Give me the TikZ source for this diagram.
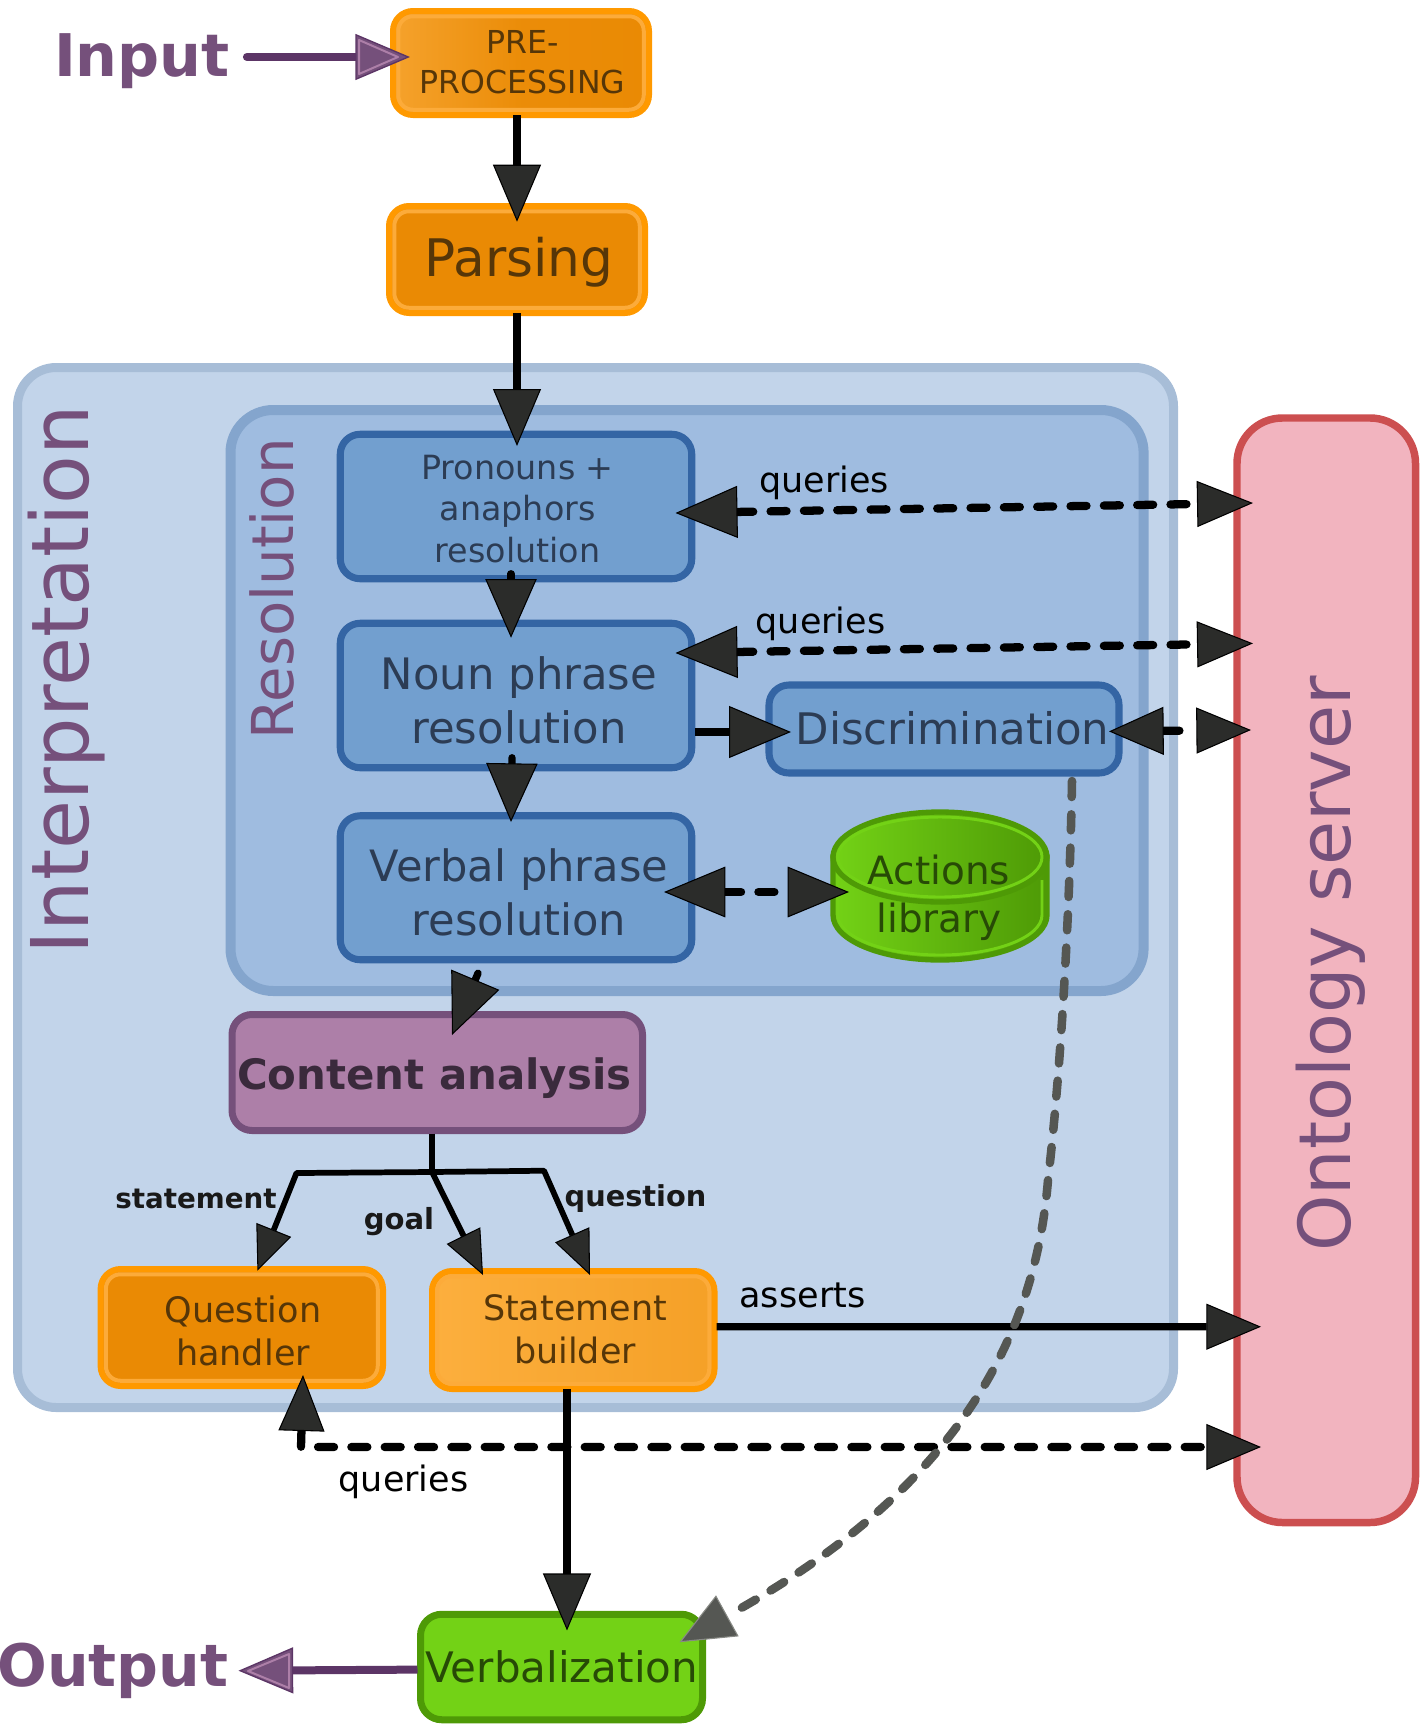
\documentclass[tikz,border=0pt]{standalone}
\usepackage{fontspec}
\setmainfont{DejaVu Sans}
\usetikzlibrary{arrows.meta,calc}
\definecolor{orst}{HTML}{FF9900}
\definecolor{orring}{HTML}{FCAB3A}
\definecolor{orfill}{HTML}{EA8A04}
\definecolor{orlight}{HTML}{FCAF3E}
\definecolor{orleft}{HTML}{F5A22C}
\definecolor{ortext}{HTML}{563608}
\definecolor{ifill}{HTML}{C2D4EA}
\definecolor{ist}{HTML}{A7BDD7}
\definecolor{rfill}{HTML}{9FBCE0}
\definecolor{rst}{HTML}{84A5CD}
\definecolor{bfill}{HTML}{729FCF}
\definecolor{bst}{HTML}{3465A4}
\definecolor{btext}{HTML}{2C3C54}
\definecolor{pur}{HTML}{75507B}
\definecolor{purd}{HTML}{5C3566}
\definecolor{purl}{HTML}{AD7FA8}
\definecolor{catext}{HTML}{3A2A3C}
\definecolor{grn}{HTML}{73D216}
\definecolor{grnd}{HTML}{4E9A06}
\definecolor{grntext}{HTML}{274A06}
\definecolor{ofill}{HTML}{F2B4BF}
\definecolor{ost}{HTML}{CC4F50}
\definecolor{tipd}{HTML}{2B2C2A}
\definecolor{gr}{HTML}{555753}
\definecolor{grl}{HTML}{888A85}
\newdimen\pxu \pxu=.75pt
% text placed inside a node: dx, dy of last baseline from the node centre (px), size, leading (pt), lines
\newcommand\intext[5]{\raisebox{-#2\pxu}[0pt][0pt]{\makebox[0pt][c]{\hspace*{2\dimexpr#1\pxu\relax}\fontsize{#3}{#4}\selectfont\begin{tabular}[b]{@{}c@{}}#5\end{tabular}}}}
\newcommand\fs[1]{\fontsize{#1}{#1}\selectfont}
\tikzset{
  x=.75pt,y=-.75pt,
  sz/.style 2 args={minimum width=#1*.75pt,minimum height=#2*.75pt},
  bx/.style={rectangle,inner sep=0pt,outer sep=0pt},
  orbox/.style={bx,draw=orst,line width=4.5pt,rounded corners=15pt,text=ortext},
  ring/.style={draw=orring,line width=3pt,rounded corners=11pt},
  bluebox/.style={bx,draw=bst,fill=bfill,line width=5.3pt,rounded corners=15pt,text=btext},
  lab/.style={inner sep=0pt,outer sep=0pt,anchor=base},
  conn/.style={line width=5.5pt,draw=black},
  solidA/.style={conn,-{Triangle[length=42.75pt,width=36pt,fill=tipd,line width=.8pt]}},
  solidC/.style={conn,-{Triangle[length=44pt,width=38.5pt,fill=tipd,line width=.8pt]}},
  thin arrow/.style={line width=4.3pt,draw=black,line join=round,-{Triangle[length=33pt,width=28pt,fill=tipd,line width=.8pt]}},
  dashline/.style={line width=6.2pt,draw=black,line cap=round,dash pattern=on 12pt off 13pt},
  dbl/.style={dashline,{Triangle[length=46.5pt,width=39pt,fill=tipd,line width=.8pt]}-{Triangle[length=42pt,width=34.5pt,fill=tipd,line width=.8pt]}},
  dblsmall/.style={dashline,{Triangle[length=41pt,width=36pt,fill=tipd,line width=.8pt]}-{Triangle[length=41pt,width=34.5pt,fill=tipd,line width=.8pt]}},
  purarrow/.style={line width=6pt,draw=purd,-{Triangle[length=41pt,width=34.5pt,fill=pur,line width=1pt]}},
}
\begin{document}
\begin{tikzpicture}
\useasboundingbox (0,0) rectangle (1420,1724);
% containers
\node[bx,sz={1156}{1040},draw=ist,fill=ifill,line width=6.75pt,rounded corners=29pt] (interp) at (595.5,887.5) {};
\node[bx,sz={913.1}{581},draw=rst,fill=rfill,line width=7.5pt,rounded corners=32pt] (resol) at (687.05,700.5) {};
\node[bx,sz={178.5}{1104.5},draw=ost,fill=ofill,line width=5.6pt,rounded corners=34pt] (ont) at (1326.25,970.25) {};
% titles
\node[lab,rotate=90,text=pur,font=\fs{59.7pt}] (interplab) at (88,680) {Interpretation};
\node[lab,rotate=90,text=pur,font=\fs{43.3pt}] (resollab) at (293.5,589) {Resolution};
\node[lab,rotate=90,text=pur,font=\fs{53.8pt}] (ontlab) at (1350.7,963.7) {Ontology server};
\node[lab,text=pur,font=\bfseries\fs{44.1pt}] (inlab) at (142,76) {Input};
\node[lab,text=pur,font=\bfseries\fs{43.9pt}] (outlab) at (113,1686) {Output};
% orange boxes
\node[orbox,sz={256}{104},left color=orleft,right color=orfill,middle color=orfill!90!orleft] (pre) at (521,63) {\intext{1.6}{30}{23.7pt}{29.7pt}{PRE-\\PROCESSING}};
\node[orbox,sz={256}{107},fill=orfill] (pars) at (517,259.5) {\intext{2}{16.5}{38.8pt}{40pt}{Parsing}};
\node[orbox,sz={282.4}{117},fill=orfill] (qh) at (241.8,1327.5) {\intext{1.2}{38}{26.3pt}{32.5pt}{Question\\handler}};
\node[orbox,sz={282.5}{118},left color=orlight,right color=orlight!60!orfill] (sb) at (573.25,1330) {\intext{1.75}{33.5}{26.2pt}{32.5pt}{Statement\\builder}};
\foreach \n in {pre,pars,qh,sb}
  \draw[ring] ([shift={(5.25,5.25)}]\n.north west) rectangle ([shift={(-5.25,-5.25)}]\n.south east);
% blue boxes
\node[bluebox,sz={351.5}{144.5}] (pron) at (516,506.5) {\intext{1.6}{55.5}{25pt}{31pt}{Pronouns +\\anaphors\\resolution}};
\node[bluebox,sz={351.5}{144.5}] (noun) at (516,695.5) {\intext{3}{48}{32.5pt}{40.5pt}{Noun phrase\\resolution}};
\node[bluebox,sz={351.5}{144}] (verb) at (516,887.75) {\intext{3}{48}{32.4pt}{40.5pt}{Verbal phrase\\resolution}};
\node[bluebox,sz={350}{88}] (disc) at (944,729) {\intext{8.5}{15.5}{32.6pt}{36pt}{Discrimination}};
% actions library cylinder
\path[draw=grnd,line width=4pt,left color=grn,middle color=grn,right color=grnd]
  (833,857) -- (833,915) .. controls (833,940) and (881,960) .. (940,960)
  .. controls (999,960) and (1047,940) .. (1047,915) -- (1047,857) -- cycle;
\path[draw=grn,line width=2.2pt] (838,880) -- (838,915) .. controls (838,937) and (884,955) .. (940,955)
  .. controls (996,955) and (1042,937) .. (1042,915) -- (1042,880);
\path[draw=grnd,line width=4pt,left color=grn,right color=grnd] (940,857) ellipse (107 and 45);
\path[draw=grn,line width=2.2pt] (940,857) ellipse (102 and 40);
\node[bx,sz={214}{150},text=grntext] (lib) at (940,886) {\intext{-1}{46}{29.2pt}{36pt}{Actions\\library}};
% content analysis, verbalization
\node[bx,sz={410.5}{116},draw=pur,fill=purl,line width=5.25pt,rounded corners=15pt,text=catext] (ca) at (437.25,1072.5) {\intext{-3}{16.5}{31.4pt}{36pt}{\bfseries Content analysis}};
\node[bx,sz={282}{105.5},draw=grnd,fill=grn,line width=5.25pt,rounded corners=16pt,text=grntext] (vz) at (561.5,1667) {\intext{0.2}{15.7}{31.5pt}{36pt}{Verbalization}};
% connector labels
\node[lab,font=\fs{26.2pt}] (q1) at (824,492.5) {queries};
\node[lab,font=\fs{26.2pt}] (q2) at (820.5,633.5) {queries};
\node[lab,font=\fs{26.2pt}] (q3) at (403.5,1491.5) {queries};
\node[lab,font=\fs{26.3pt}] (as) at (802.5,1307) {asserts};
\node[lab,font=\bfseries\fs{20.8pt},text=black!90] (lst) at (196,1208.5) {statement};
\node[lab,font=\bfseries\fs{21.8pt},text=black!90] (lgo) at (399,1229) {goal};
\node[lab,font=\bfseries\fs{21.6pt},text=black!90] (lqu) at (635.5,1206) {question};
% connectors
\draw[purarrow,line cap=round] ([shift={(17,-19)}]inlab.base east) -- ([shift={(17,-6)}]pre.west);
\draw[solidA] ([shift={(-4,0)}]pre.south) -- ([shift={(0,15.7)}]pars.north);
\draw[solidA] (pars.south) -- ([shift={(1,11.75)}]pron.north);
\draw[solidC,line cap=round] ([shift={(-5,-5)}]pron.south) -- ([shift={(-5,14.5)}]noun.north);
\draw[solidC,line cap=round] ([shift={(-4,-10)}]noun.south) -- ([shift={(-5,6.25)}]verb.north);
\draw[line width=6.5pt,draw=black,-{Triangle[length=46.5pt,width=39pt,fill=tipd,line width=.8pt]}] ([shift={(3,36.5)}]noun.east) -- ([shift={(22,3)}]disc.west);
\draw[dbl] ([shift={(-16.25,6.5)}]pron.east) -- ([shift={(16,-467.25)}]ont.west);
\draw[dbl] ([shift={(-16.25,-42.5)}]noun.east) -- ([shift={(16,-326.85)}]ont.west);
\draw[dblsmall] ([shift={(-10,2.4)}]disc.east) -- ([shift={(14,-240.25)}]ont.west);
\draw[dashline,{Triangle[length=46pt,width=38pt,fill=tipd,line width=.8pt]}-{Triangle[length=46pt,width=38pt,fill=tipd,line width=.8pt]}] ([shift={(-27.75,4.25)}]verb.east) -- ([shift={(16,6)}]lib.west);
\draw[conn,line cap=round,-{Triangle[length=45pt,width=39pt,fill=tipd,line width=.8pt]}] ([shift={(-38,13.5)}]verb.south) -- ([shift={(14.75,20.5)}]ca.north);
% content analysis fan-out
\coordinate (jn) at (432,1172);
\coordinate (bl) at (296.5,1173);
\coordinate (br) at (544,1170.7);
\draw[line width=4.3pt] ([shift={(-5.25,3)}]ca.south) -- (jn);
\draw[thin arrow] (jn) -- (bl) -- ([shift={(15.6,1.7)}]qh.north);
\draw[thin arrow] (jn) -- ([shift={(-90.25,4)}]sb.north);
\draw[thin arrow] (jn) -- (br) -- ([shift={(16.75,4)}]sb.north);
\draw[conn,-{Triangle[length=41pt,width=34.5pt,fill=tipd,line width=.8pt]}] ([shift={(2,-3.3)}]sb.east) -- ([shift={(24,356.45)}]ont.west);
\draw[solidA] ([shift={(-6.25,0)}]sb.south) -- ([shift={(5.5,16.2)}]vz.north);
\coordinate (qc) at (301,1447);
\draw[dashline,{Triangle[length=42pt,width=34.5pt,fill=tipd,line width=.8pt]}-{Triangle[length=41pt,width=34.5pt,fill=tipd,line width=.8pt]}] ([shift={(61.2,-11)}]qh.south) -- (qc) -- ([shift={(24,476.75)}]ont.west);
\coordinate (gm) at (1048,1180);
\draw[line width=6.4pt,draw=gr,line cap=round,dash pattern=on 12pt off 13pt,-{Triangle[length=41pt,width=35pt,fill=gr,color=grl,line width=.8pt]}]
  ([shift={(128,8)}]disc.south) .. controls (1070,900) and (1062,1060) .. (gm)
  .. controls (1035,1340) and (955,1490) .. ([shift={(118,28)}]vz.north);
\draw[purarrow] ([shift={(-3,2.6)}]vz.west) -- ([shift={(10,-15.3)}]outlab.base east);
% lighter inner edge of the purple arrowheads
\draw[purl,line width=1.5pt,line join=round] (359,40) -- (359,74) -- (398,57) -- cycle;
\draw[purl,line width=1.5pt,line join=round] (289,1654) -- (289,1688) -- (248,1671) -- cycle;
\end{tikzpicture}
\end{document}
